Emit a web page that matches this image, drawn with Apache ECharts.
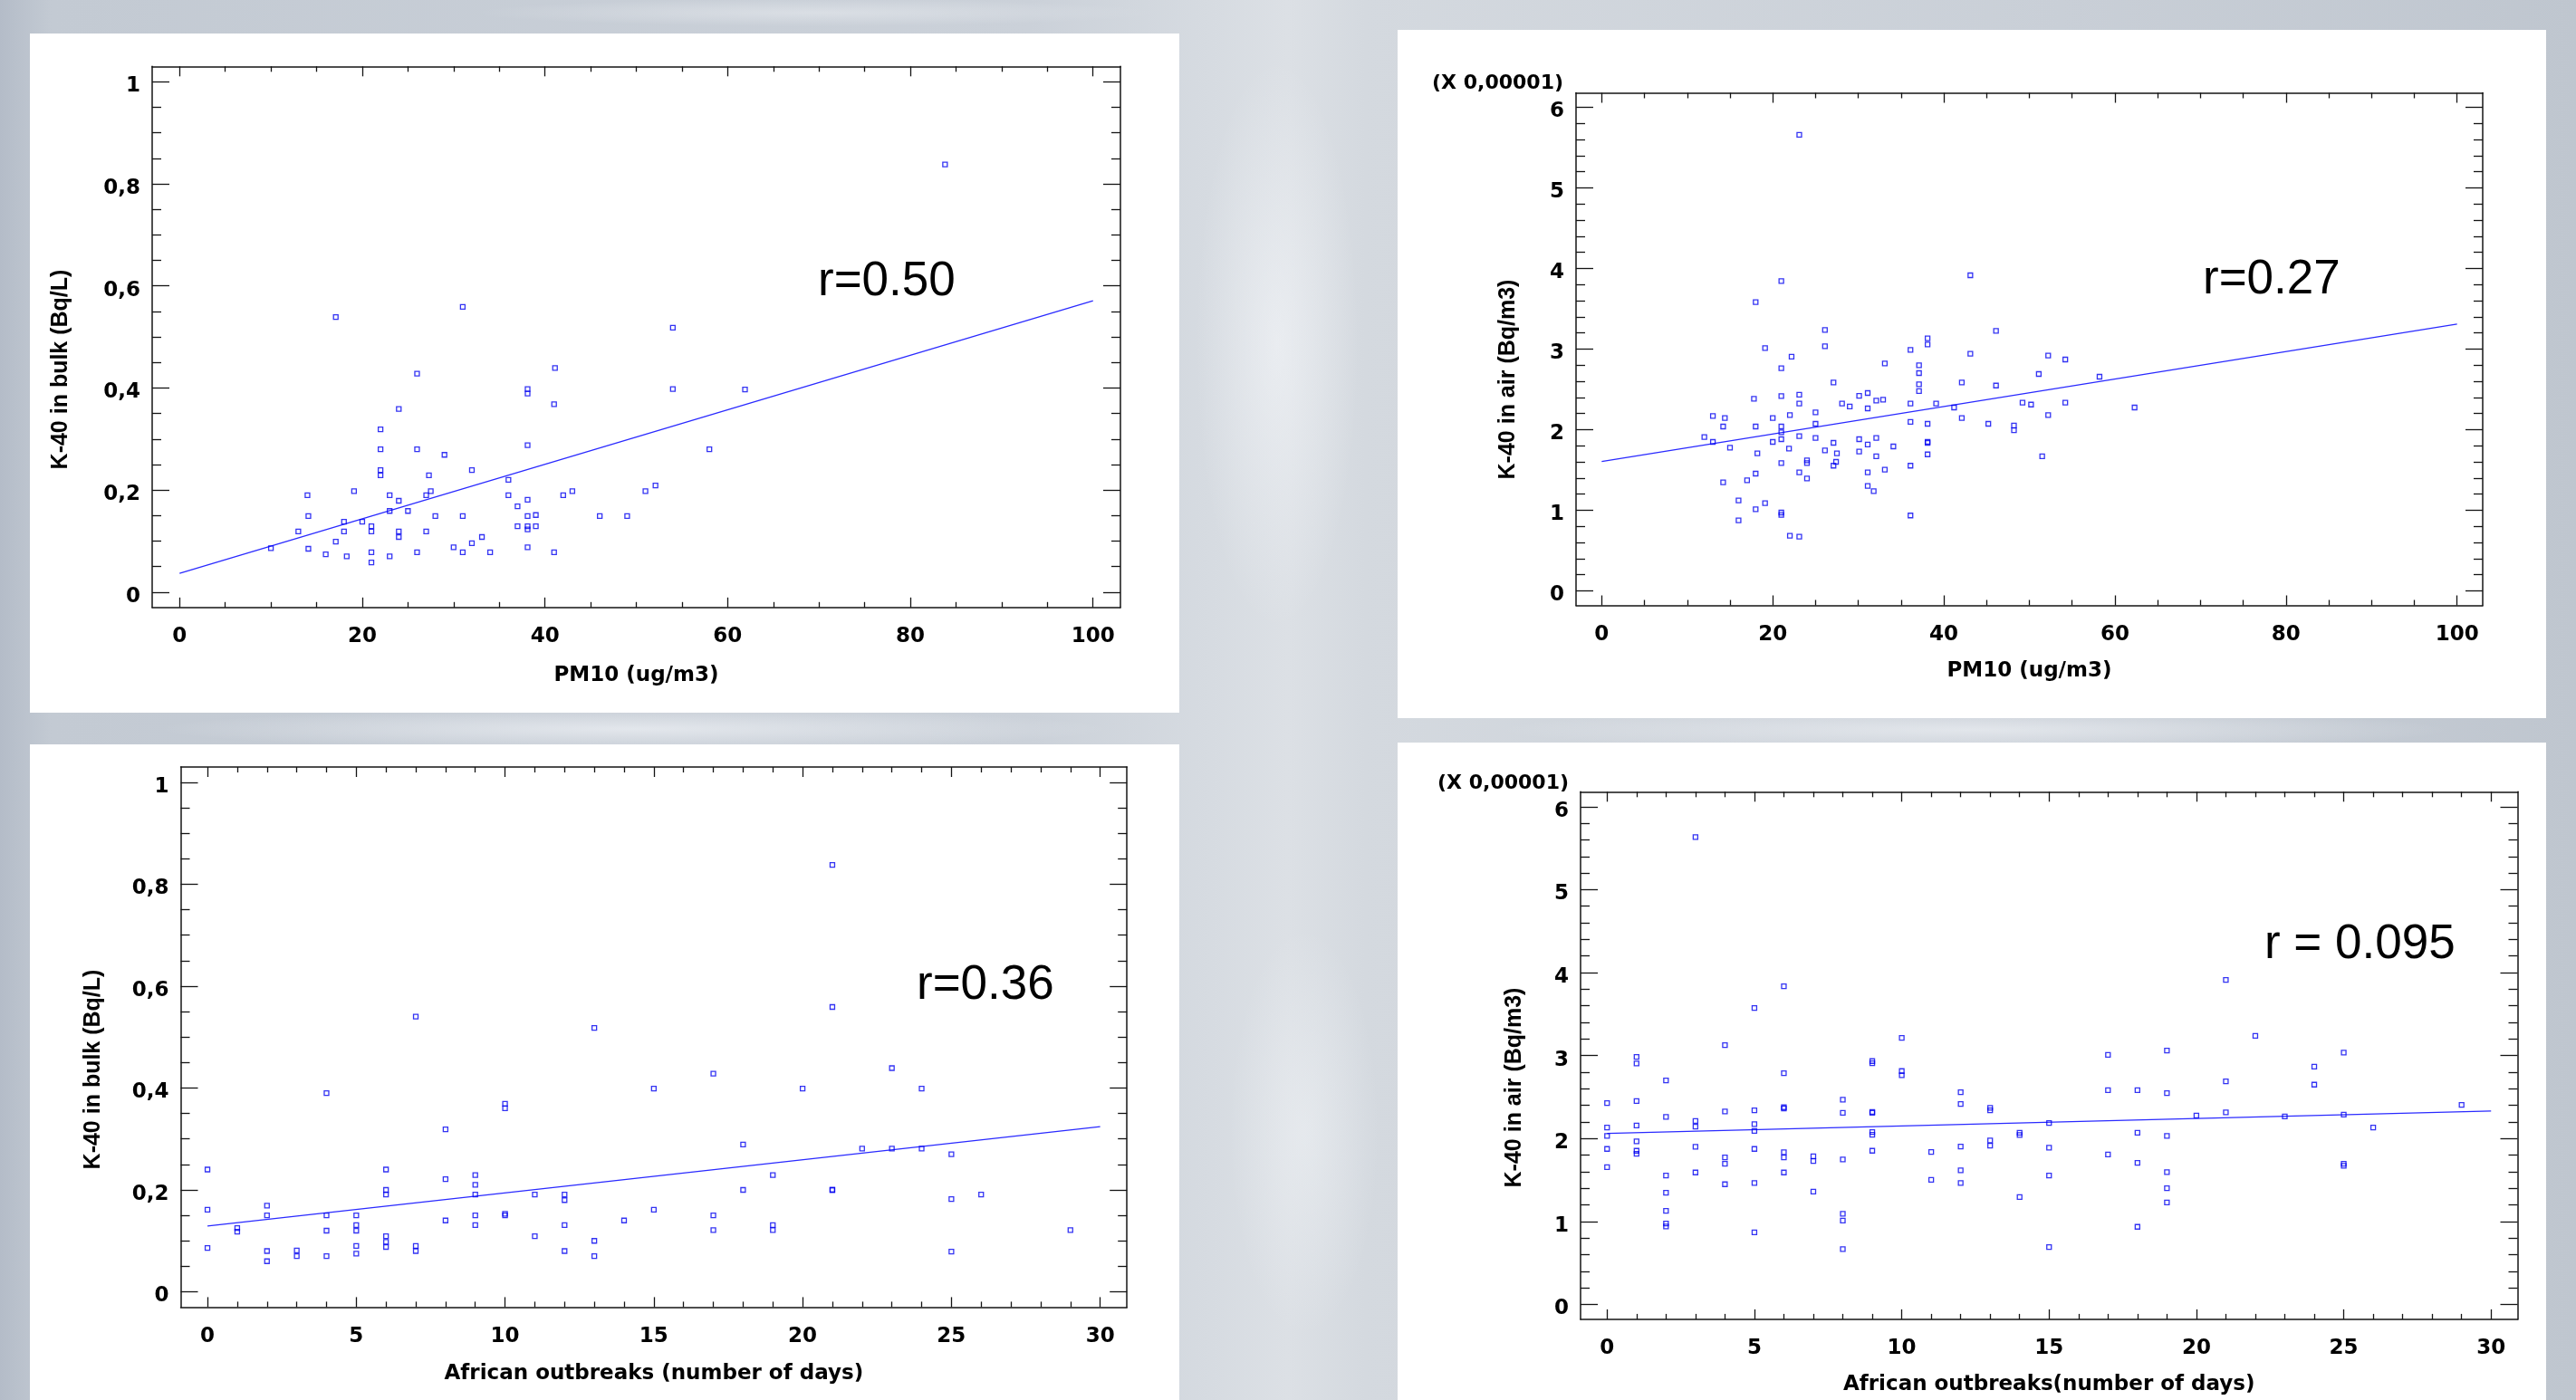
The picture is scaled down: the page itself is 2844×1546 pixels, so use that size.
<!DOCTYPE html>
<html>
<head>
<meta charset="utf-8">
<script src="https://cdn.jsdelivr.net/npm/echarts@6/dist/echarts.min.js"></script>
<style>
html,body{margin:0;padding:0;width:2844px;height:1546px;overflow:hidden;}
body{
  background:
   radial-gradient(ellipse 120px 420px at 1410px 380px, rgba(245,247,250,0.55), rgba(255,255,255,0) 75%),
   radial-gradient(ellipse 110px 300px at 1440px 1250px, rgba(240,243,246,0.5), rgba(255,255,255,0) 75%),
   radial-gradient(ellipse 700px 30px at 700px 805px, rgba(238,241,245,0.7), rgba(255,255,255,0) 75%),
   radial-gradient(ellipse 700px 30px at 2180px 806px, rgba(236,239,243,0.7), rgba(255,255,255,0) 75%),
   radial-gradient(ellipse 500px 20px at 900px 14px, rgba(225,229,234,0.7), rgba(255,255,255,0) 75%),
   linear-gradient(90deg, #b4bcc8 0%, #c3cad3 2%, #cbd1d9 40%, #d6dbe1 47%, #dce0e5 50%, #d4d9df 53%, #c9cfd7 80%, #bfc6cf 100%);
}
.panel{position:absolute;background:#ffffff;}
#chart{position:absolute;left:0;top:0;width:2844px;height:1546px;}
</style>
</head>
<body>
<div class="panel" style="left:33px;top:37px;width:1269px;height:750px"></div>
<div class="panel" style="left:1543px;top:33px;width:1268px;height:760px"></div>
<div class="panel" style="left:33px;top:822px;width:1269px;height:724px"></div>
<div class="panel" style="left:1543px;top:820px;width:1268px;height:726px"></div>
<div id="chart"></div>
<script>
// ---------------- DATA ----------------
// Panel 1: PM10 (ug/m3) vs K-40 in bulk (Bq/L)
const pmBulkX = [17.1,31.0,54.0,26.0,41.1,38.1,38.1,54.0,41.0,24.0,
  22.0,22.0,26.0,29.0,38.1,58.0,22.0,22.0,27.3,32.0,
  36.0,14.0,19.1,23.0,24.0,27.0,27.5,36.0,38.1,37.0,
  42.0,43.0,51.0,52.1,14.1,23.0,25.0,18.0,20.0,21.0,
  28.0,31.0,38.1,39.0,46.0,49.0,13.0,18.0,21.0,24.0,
  27.0,37.0,38.1,38.1,39.0,10.0,17.1,24.0,33.1,14.1,
  16.0,18.3,21.0,21.0,23.0,26.0,30.0,31.0,32.0,34.0,
  38.1,41.0,83.8,61.9];
const pmBulkY = [0.539,0.559,0.518,0.428,0.439,0.398,0.389,0.398,0.368,0.359,
  0.319,0.280,0.280,0.269,0.288,0.280,0.239,0.229,0.229,0.239,
  0.220,0.190,0.198,0.190,0.179,0.190,0.198,0.190,0.181,0.168,
  0.190,0.198,0.198,0.209,0.149,0.159,0.159,0.138,0.138,0.129,
  0.149,0.149,0.149,0.151,0.149,0.149,0.119,0.119,0.119,0.119,
  0.119,0.129,0.129,0.123,0.129,0.086,0.099,0.108,0.108,0.085,
  0.074,0.070,0.078,0.058,0.070,0.078,0.088,0.078,0.096,0.078,
  0.088,0.078,0.838,0.397];
const pmBulkFitX = [0, 100];
const pmBulkFitY = [0.037, 0.571];

// Panel 2: PM10 (ug/m3) vs K-40 in air (Bq/m3) (x 0,00001)
const pmAirX = [21.0,18.0,26.1,26.1,19.1,22.2,21.0,38.1,38.1,36.1,
  33.1,37.1,37.1,27.1,37.1,37.1,17.8,21.0,23.1,23.1,
  30.1,31.1,32.1,32.9,28.1,29.0,31.1,36.1,39.1,25.0,
  13.0,14.4,20.0,22.0,14.2,18.0,21.0,25.0,36.1,38.1,
  12.0,13.0,21.0,21.0,20.0,23.1,25.0,27.1,30.1,31.1,
  32.1,34.1,38.1,38.1,15.0,21.9,18.2,26.1,27.5,30.1,
  32.1,38.1,21.0,24.0,24.0,27.4,27.1,36.1,18.0,17.0,
  23.1,24.0,31.1,33.1,14.2,31.1,31.8,16.0,19.1,18.0,
  16.0,21.0,21.0,36.1,22.0,23.1,
  43.1,46.1,43.1,52.2,54.2,51.1,58.2,42.1,46.1,41.2,
  49.2,50.2,54.2,62.3,42.1,45.2,52.2,48.2,48.2,51.5,
  23.1];
const pmAirY = [3.845,3.582,3.238,3.036,3.013,2.905,2.762,3.133,3.058,2.991,
  2.822,2.800,2.702,2.586,2.564,2.478,2.384,2.418,2.433,2.324,
  2.421,2.455,2.362,2.373,2.324,2.287,2.264,2.324,2.324,2.215,
  2.170,2.144,2.144,2.182,2.039,2.039,2.039,2.073,2.096,2.073,
  1.908,1.848,1.968,1.882,1.848,1.919,1.897,1.837,1.882,1.815,
  1.897,1.792,1.848,1.837,1.777,1.766,1.706,1.744,1.706,1.728,
  1.669,1.694,1.586,1.620,1.586,1.601,1.553,1.553,1.455,1.373,
  1.470,1.395,1.470,1.503,1.346,1.301,1.238,1.121,1.088,1.013,
  0.874,0.972,0.942,0.935,0.683,0.672,
  3.916,3.227,2.942,2.919,2.871,2.691,2.657,2.586,2.548,2.275,
  2.335,2.312,2.335,2.275,2.144,2.073,2.182,2.051,1.994,1.669,
  5.660];
const pmAirFitX = [0, 100];
const pmAirFitY = [1.605, 3.31];

// Panel 3: African outbreaks (number of days) vs K-40 in bulk (Bq/L)
const daysBulkX = [0,0,0,1,1,2,2,2,2,3,3,4,4,4,4,5,5,5,5,5,6,6,6,6,6,6,7,7,7,8,8,8,
  9,9,9,9,9,10,10,10,10,11,11,12,12,12,12,13,13,13,14,15,15,17,17,17,18,18,19,19,19,
  20,21,21,21,21,22,23,23,24,24,25,25,25,26,29];
const daysBulkY = [0.240,0.161,0.086,0.125,0.118,0.169,0.150,0.080,0.060,0.081,0.070,
  0.390,0.150,0.120,0.070,0.150,0.131,0.120,0.090,0.075,0.240,0.200,0.191,0.109,0.098,0.088,
  0.540,0.090,0.080,0.319,0.221,0.140,0.229,0.210,0.191,0.150,0.131,0.369,0.360,0.153,0.150,
  0.191,0.109,0.191,0.180,0.131,0.080,0.518,0.100,0.070,0.140,0.399,0.161,0.428,0.150,0.121,
  0.289,0.200,0.229,0.131,0.121,0.399,0.838,0.559,0.200,0.200,0.281,0.439,0.281,0.399,0.281,
  0.270,0.182,0.079,0.191,0.121];
const daysBulkFitX = [0, 30];
const daysBulkFitY = [0.129, 0.324];

// Panel 4: African outbreaks (number of days) vs K-40 in air (Bq/m3) (x 0,00001)
const daysAirX = [0,0,0,0,0, 1,1,1,1,1,1,1, 2,2,2,2,2,2,2, 3,3,3,3,3, 4,4,4,4,4,
  5,5,5,5,5,5,5, 6,6,6,6,6,6,6, 7,7,7, 8,8,8,8,8,8, 9,9,9,9,9,9,9, 10,10,10, 11,11,
  12,12,12,12,12, 13,13,13,13, 14,14,14, 15,15,15,15, 17,17,17, 18,18,18,18,
  19,19,19,19,19,19, 20, 21,21,21, 22, 23, 24,24, 25,25,25,25, 26, 29];
const daysAirY = [2.427,2.132,2.030,1.874,1.655,
  2.984,2.904,2.452,2.157,1.965,1.852,1.816,
  2.700,2.260,1.553,1.346,1.128,0.975,0.939,
  5.633,2.212,2.143,1.900,1.590,
  3.126,2.325,1.772,1.695,1.448,
  3.573,2.340,2.172,2.092,1.874,1.463,0.869,
  3.835,2.787,2.376,2.361,1.834,1.772,1.590,
  1.786,1.728,1.360,
  2.467,2.310,1.747,1.092,1.011,0.666,
  2.933,2.908,2.321,2.310,2.078,2.045,1.852,
  3.213,2.813,2.762,
  1.837,1.502,
  2.558,2.416,1.903,1.616,1.463,
  2.369,2.340,1.976,1.914,
  2.070,2.041,1.295,
  2.187,1.889,1.553,0.691,
  3.009,2.583,1.808,
  2.583,2.070,1.706,0.935,
  3.060,2.547,2.030,1.594,1.401,1.229,
  2.277,
  3.912,2.689,2.314,
  3.238,
  2.266,
  2.867,2.649,
  3.035,2.288,1.695,1.670,
  2.132,
  2.405];
const daysAirFitX = [0, 30];
const daysAirFitY = [2.06, 2.33];

// Tick values and labels
const pmTicks = [0,20,40,60,80,100];
const pmTickLabels = ['0','20','40','60','80','100'];
const daysTicks = [0,5,10,15,20,25,30];
const daysTickLabels = ['0','5','10','15','20','25','30'];
const bulkTicks = [0,0.2,0.4,0.6,0.8,1];
const bulkTickLabels = ['0','0,2','0,4','0,6','0,8','1'];
const airTicks = [0,1,2,3,4,5,6];
const airTickLabels = ['0','1','2','3','4','5','6'];

// Texts
const xNames = ['PM10 (ug/m3)','PM10 (ug/m3)','African outbreaks (number of days)','African outbreaks(number of days)'];
const yNames = ['K-40 in bulk (Bq/L)','K-40 in air (Bq/m3)','K-40 in bulk (Bq/L)','K-40 in air (Bq/m3)'];
const rTexts = ['r=0.50','r=0.27','r=0.36','r = 0.095'];
const scaleText = '(X 0,00001)';

// ---------------- BUILD ----------------
const STAT_FONT = 'DejaVu Sans';
const AX_COLOR = '#141414';
const PT_COLOR = '#0000f0';

function minorTicks(major, step){
  const out = [];
  const lo = major[0], hi = major[major.length-1];
  const n = Math.round((hi-lo)/step);
  for(let i=0;i<=n;i++){
    const v = +(lo + i*step).toFixed(6);
    if(!major.some(m => Math.abs(m-v) < 1e-9)) out.push(v);
  }
  return out;
}
function labelFor(ticks, labels){
  return v => { const i = ticks.findIndex(t => Math.abs(t - v) < 1e-9); return i >= 0 ? labels[i] : ''; };
}

const panels = [
  {grid:{left:168,top:73.3,width:1069,height:597.5}, x:[-3,103], y:[-0.03,1.03],
   xt:pmTicks, xl:pmTickLabels, xm:5, yt:bulkTicks, yl:bulkTickLabels, ym:0.05,
   xs:pmBulkX, ys:pmBulkY, fx:pmBulkFitX, fy:pmBulkFitY, nameGap:64},
  {grid:{left:1740,top:102.5,width:1001,height:566}, x:[-3,103], y:[-0.18,6.18],
   xt:pmTicks, xl:pmTickLabels, xm:5, yt:airTicks, yl:airTickLabels, ym:0.2,
   xs:pmAirX, ys:pmAirY, fx:pmAirFitX, fy:pmAirFitY, nameGap:61},
  {grid:{left:199.5,top:847,width:1044.7,height:596.4}, x:[-0.9,30.9], y:[-0.03,1.03],
   xt:daysTicks, xl:daysTickLabels, xm:1, yt:bulkTicks, yl:bulkTickLabels, ym:0.05,
   xs:daysBulkX, ys:daysBulkY, fx:daysBulkFitX, fy:daysBulkFitY, nameGap:62},
  {grid:{left:1745,top:874.3,width:1034.5,height:582.6}, x:[-0.9,30.9], y:[-0.18,6.18],
   xt:daysTicks, xl:daysTickLabels, xm:1, yt:airTicks, yl:airTickLabels, ym:0.2,
   xs:daysAirX, ys:daysAirY, fx:daysAirFitX, fy:daysAirFitY, nameGap:61}
];

const grids = [], xAxes = [], yAxes = [], series = [];
const labelStyle = {fontFamily:STAT_FONT, fontWeight:'bold', fontSize:23, color:'#000'};

panels.forEach((p, gi) => {
  grids.push(Object.assign({containLabel:false, outerBoundsMode:'none'}, p.grid));
  const xMinor = minorTicks(p.xt, p.xm), yMinor = minorTicks(p.yt, p.ym);
  const line = {show:true, onZero:false, lineStyle:{color:AX_COLOR, width:1.5}};
  const noLine = {show:false, onZero:false};
  const tk = (vals, len) => ({show:true, inside:true, length:len, customValues:vals, lineStyle:{color:AX_COLOR, width:1.3}});
  const base = (min, max) => ({gridIndex:gi, type:'value', min:min, max:max, splitLine:{show:false}, axisPointer:{show:false}, silent:true});
  // x axes
  xAxes.push(Object.assign(base(p.x[0], p.x[1]), {position:'bottom', axisLine:line, axisTick:tk(p.xt, 11),
    axisLabel:Object.assign({show:true, customValues:p.xt, formatter:labelFor(p.xt, p.xl), margin:21}, labelStyle),
    name:xNames[gi], nameLocation:'middle', nameGap:p.nameGap,
    nameTextStyle:{fontFamily:STAT_FONT, fontWeight:'bold', fontSize:23, color:'#000'}}));
  xAxes.push(Object.assign(base(p.x[0], p.x[1]), {position:'bottom', axisLine:noLine, axisTick:tk(xMinor, 6), axisLabel:{show:false}}));
  xAxes.push(Object.assign(base(p.x[0], p.x[1]), {position:'top', axisLine:line, axisTick:tk(p.xt, 11), axisLabel:{show:false}}));
  xAxes.push(Object.assign(base(p.x[0], p.x[1]), {position:'top', axisLine:noLine, axisTick:tk(xMinor, 6), axisLabel:{show:false}}));
  // y axes (labels sit a few pixels below their ticks, as in the original)
  yAxes.push(Object.assign(base(p.y[0], p.y[1]), {position:'left', axisLine:line, axisTick:tk(p.yt, 19),
    axisLabel:Object.assign({show:true, customValues:p.yt, formatter:labelFor(p.yt, p.yl), margin:13,
      verticalAlign:'top', lineHeight:10}, labelStyle)}));
  yAxes.push(Object.assign(base(p.y[0], p.y[1]), {position:'left', axisLine:noLine, axisTick:tk(yMinor, 10), axisLabel:{show:false}}));
  yAxes.push(Object.assign(base(p.y[0], p.y[1]), {position:'right', axisLine:line, axisTick:tk(p.yt, 19), axisLabel:{show:false}}));
  yAxes.push(Object.assign(base(p.y[0], p.y[1]), {position:'right', axisLine:noLine, axisTick:tk(yMinor, 10), axisLabel:{show:false}}));

  series.push({type:'line', xAxisIndex:gi*4, yAxisIndex:gi*4, data:p.fx.map((v,i)=>[v, p.fy[i]]),
    showSymbol:false, silent:true, lineStyle:{color:'#2a2aff', width:1.3}, z:2});
  series.push({type:'scatter', xAxisIndex:gi*4, yAxisIndex:gi*4, data:p.xs.map((v,i)=>[v, p.ys[i]]),
    symbol:'rect', symbolSize:5, silent:true,
    itemStyle:{color:'rgba(0,0,0,0)', borderColor:PT_COLOR, borderWidth:1.3}, z:3});
});

const yNamePos = [[67,408],[1665,419],[103,1181],[1672,1201]];
const rPos = [[903,311],[2432,309],[1012,1088],[2500,1043]];
const graphic = [];
yNamePos.forEach((pos, i) => {
  graphic.push({type:'text', x:pos[0], y:pos[1], rotation:Math.PI/2, silent:true,
    style:{text:yNames[i], fontFamily:'Liberation Sans', fontWeight:'bold', fontSize:25, fill:'#000', align:'center', verticalAlign:'middle'}});
});
rPos.forEach((pos, i) => {
  graphic.push({type:'text', x:pos[0], y:pos[1], silent:true,
    style:{text:rTexts[i], fontFamily:'Liberation Sans', fontSize:53, fill:'#000', align:'left', verticalAlign:'middle'}});
});
[[1726,92],[1732,865]].forEach(pos => {
  graphic.push({type:'text', x:pos[0], y:pos[1], silent:true,
    style:{text:scaleText, fontFamily:STAT_FONT, fontWeight:'bold', fontSize:22, fill:'#000', align:'right', verticalAlign:'middle'}});
});

const chart = echarts.init(document.getElementById('chart'), null, {renderer:'canvas', width:2844, height:1546});
chart.setOption({
  animation:false,
  backgroundColor:'transparent',
  grid:grids, xAxis:xAxes, yAxis:yAxes, series:series, graphic:graphic
});
</script>
</body>
</html>
